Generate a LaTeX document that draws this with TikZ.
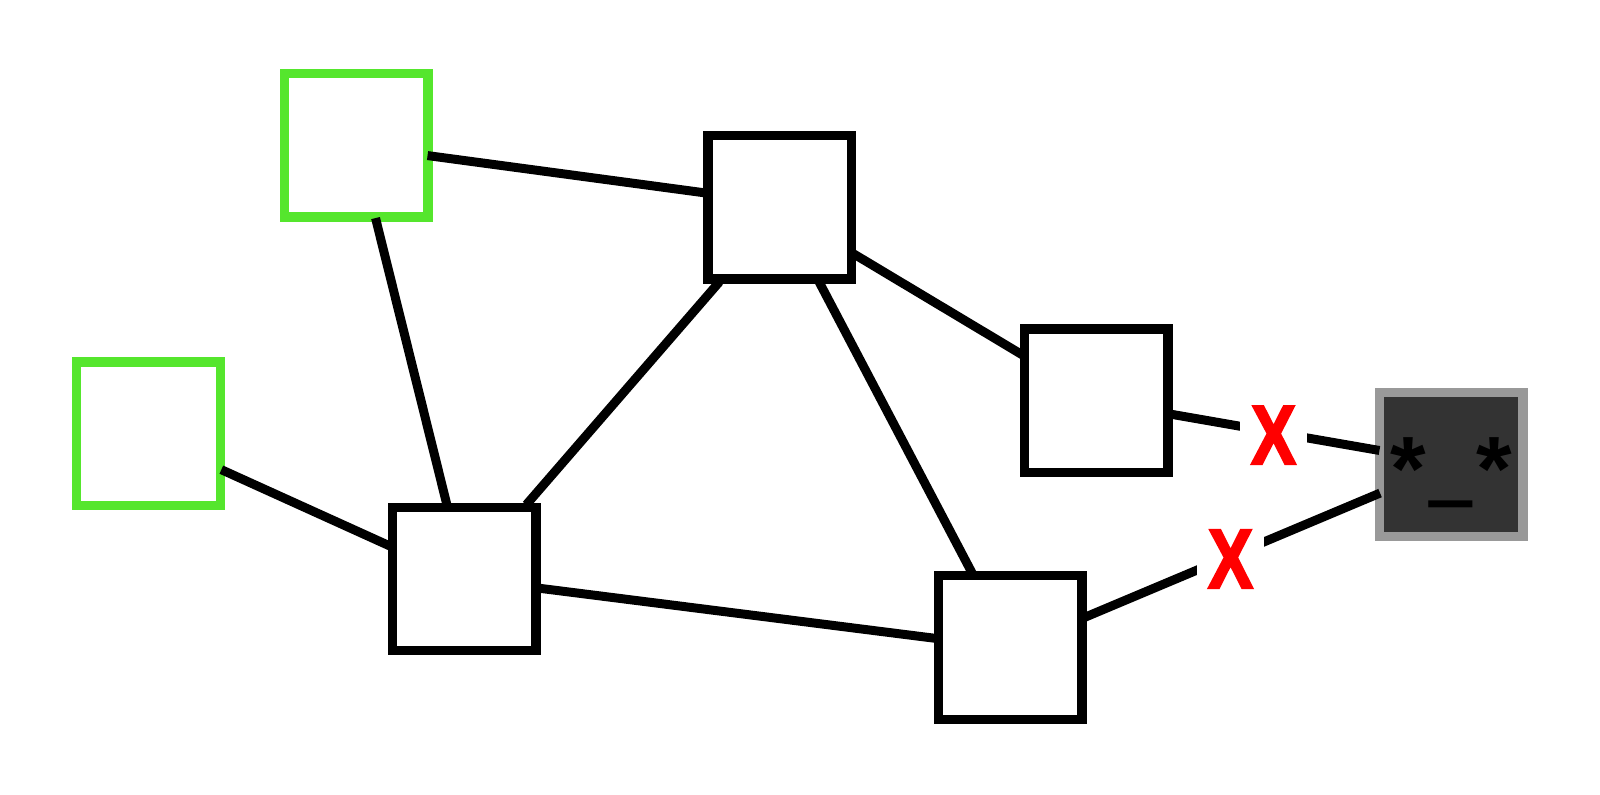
\documentclass[tikz,border=0pt]{standalone}
\usepackage{fontspec}
\setmainfont{Liberation Sans}
\newfontfamily\crossfont[FakeStretch=.8,FakeBold=2.4]{Liberation Sans Bold}
\definecolor{livegreen}{HTML}{55E62D}
\definecolor{deadgray}{HTML}{999999}
\definecolor{deadfill}{HTML}{333333}
\tikzset{
  peer/.style={draw,line width=2.7pt,fill=white,minimum size=1.435cm,inner sep=0pt},
  livepeer/.style={peer,draw=livegreen},
  deadpeer/.style={peer,draw=deadgray,fill=deadfill},
  wire/.style={line width=2.55pt,shorten <=-.03cm,shorten >=-.03cm},
  crossmark/.style={fill=white,text=red,font=\crossfont\fontsize{24}{24}\selectfont,minimum width=.67cm,minimum height=.62cm,inner sep=0pt,yshift=-.03cm}
}

\begin{document}
\begin{tikzpicture}
\useasboundingbox (0,0) rectangle (16,7.94);
\node [livepeer] (greentop) at (3.56,6.485) {};
\node [livepeer] (greenleft) at (1.485,3.60) {};
\node [peer] (mid) at (7.795,5.865) {};
\node [peer] (lower) at (4.64,2.15) {};
\node [peer] (right) at (10.96,3.93) {};
\node [peer] (bottom) at (10.10,1.465) {};
\node [deadpeer,font=\bfseries\fontsize{26}{26}\selectfont] (dead) at (14.51,3.295) {\smash{\raisebox{-10.2pt}{*\kern1.15pt\raisebox{4.2pt}{\scalebox{.84}[2]{\_}}\kern1.15pt*}}};

\draw [wire,shorten <=-.05cm] (greentop.-8.3) -- (mid.169.9);
\draw [wire,shorten <=-.04cm] (greentop.-75.9) -- (lower.103.3);
\draw [wire,shorten <=-.04cm] (greenleft.-26) -- (lower.156.5);
\draw [wire] (lower.50.5) -- (mid.-129.4);
\draw [wire] (mid.-62.5) -- (bottom.117.3);
\draw [wire] (mid.-32) -- (right.148.8);
\draw [wire] (lower.-7.4) -- (bottom.173.6);
\draw [wire,shorten >=-.05cm] (right.-10.4) -- node [crossmark,pos=.5] (crossa) {X} (dead.169.3);
\draw [wire,shorten >=-.06cm] (bottom.22) -- node [crossmark,pos=.5] (crossb) {X} (dead.202.6);
\end{tikzpicture}
\end{document}
